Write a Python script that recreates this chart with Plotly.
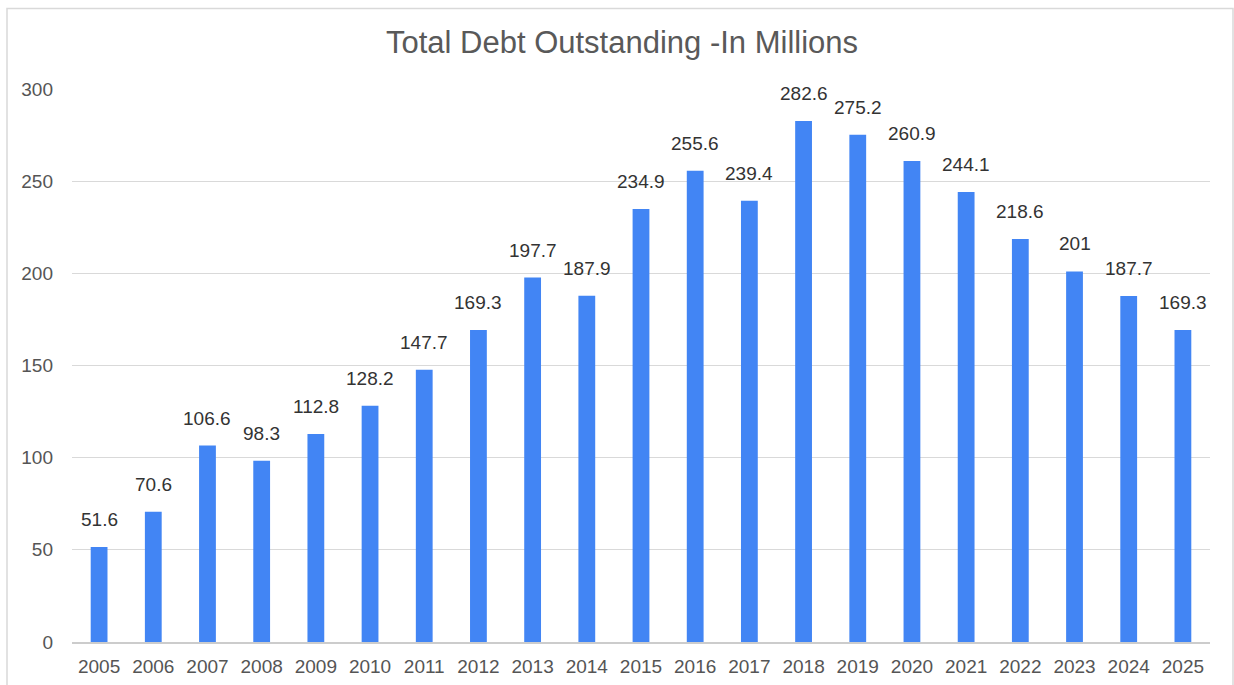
import plotly.graph_objects as go

years = [str(y) for y in range(2005, 2026)]
debt = [51.6, 70.6, 106.6, 98.3, 112.8, 128.2, 147.7, 169.3, 197.7, 187.9,
        234.9, 255.6, 239.4, 282.6, 275.2, 260.9, 244.1, 218.6, 201, 187.7, 169.3]
labels = [f"{v:g}" for v in debt]
y_ticks = [0, 50, 100, 150, 200, 250, 300]

W, H = 1234, 685
L, R, T, B = 72, 24, 89, 43
pw, ph = W - L - R, H - T - B
FONT = "Liberation Sans, Arial, sans-serif"

fig = go.Figure(go.Bar(
    x=years, y=debt,
    marker=dict(color="#4285F4", line=dict(width=0)),
    hoverinfo="x+y",
))

annotations = [
    dict(x=i, y=v, xref="x", yref="y", text=t, showarrow=False,
         yanchor="bottom", yshift=15,
         font=dict(family=FONT, size=19, color="#333333"))
    for i, (v, t) in enumerate(zip(debt, labels))
]

fig.update_layout(
    width=W, height=H,
    margin=dict(l=L, r=R, t=T, b=B, autoexpand=False),
    paper_bgcolor="white", plot_bgcolor="white",
    bargap=0.69,
    showlegend=False,
    font=dict(family=FONT),
    title=dict(text="Total Debt Outstanding -In Millions",
               x=622 / W, xanchor="center", y=1 - 42 / H, yanchor="middle",
               font=dict(size=31, color="#595959")),
    xaxis=dict(type="category", range=[-0.5, len(years) - 0.5], showgrid=False,
               showline=True, linecolor="#cccccc",
               linewidth=1.5, ticks="", ticklabelstandoff=6,
               tickfont=dict(size=19, color="#555555")),
    yaxis=dict(range=[0, 300], tickvals=y_ticks, showgrid=True, gridcolor="#d9d9d9",
               gridwidth=1, zeroline=False, showline=False, ticks="",
               ticklabelstandoff=18,
               tickfont=dict(size=19, color="#555555")),
    annotations=annotations,
    shapes=[dict(type="rect", xref="paper", yref="paper",
                 x0=(7 - L) / pw, x1=(1233 - L) / pw,
                 y0=(H - B - 700) / ph, y1=(H - B - 8.5) / ph,
                 line=dict(color="#d9d9d9", width=1.5), fillcolor="rgba(0,0,0,0)", layer="below")],
)

fig.write_html("out.html", config={"displayModeBar": False},
               post_script="document.body.style.margin='0';document.body.style.overflow='hidden';")
